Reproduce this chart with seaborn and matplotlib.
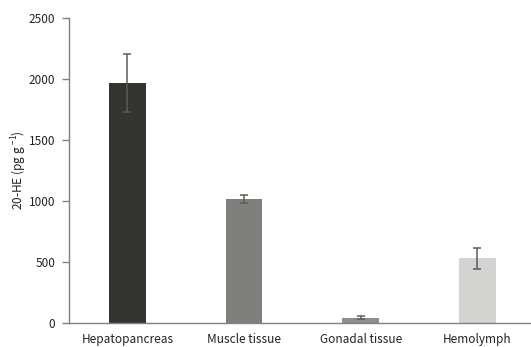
import matplotlib
matplotlib.use("Agg")
import matplotlib.pyplot as plt
import seaborn as sns
import pandas as pd

tissues = ["Hepatopancreas", "Muscle tissue", "Gonadal tissue", "Hemolymph"]
means = [1965, 1015, 42, 530]
errors = [237, 33, 12, 83]
colors = ["#353530", "#7f7f7c", "#8e8e8a", "#d3d3d1"]

sns.set_theme(style="white")
plt.rcParams["font.family"] = ["Noto Sans CJK KR", "DejaVu Sans"]

df = pd.DataFrame({"tissue": tissues, "value": means})

fig = plt.figure(figsize=(5.31, 3.47), dpi=100)
ax = fig.add_axes([0.130, 0.069, 0.868, 0.879])

sns.barplot(data=df, x="tissue", y="value", hue="tissue", palette=colors,
            width=0.315, legend=False, ax=ax, edgecolor="none")
ax.errorbar(range(len(tissues)), means, yerr=errors, fmt="none",
            ecolor="#5c5c5c", elinewidth=1.1, capsize=3, capthick=1.1)

ax.set_xlim(-0.5, 3.45)
ax.set_ylim(0, 2500)
ax.set_yticks([0, 500, 1000, 1500, 2000, 2500])
ax.set_xlabel("")
ax.set_ylabel("20-HE (pg g $^{\\mathregular{-1}}$)", fontsize=8.5,
              color="#222222", labelpad=0)

for side in ["top", "right"]:
    ax.spines[side].set_visible(False)
for side in ["left", "bottom"]:
    ax.spines[side].set_color("#808080")
    ax.spines[side].set_linewidth(1.0)

ax.tick_params(axis="y", which="both", left=True, direction="out", length=5,
               width=1, color="#808080", labelsize=8.5, labelcolor="#222222", pad=5)
ax.tick_params(axis="x", bottom=False, labelsize=8.5, labelcolor="#222222", pad=1)

fig.savefig("out.png", dpi=100, facecolor="white")
